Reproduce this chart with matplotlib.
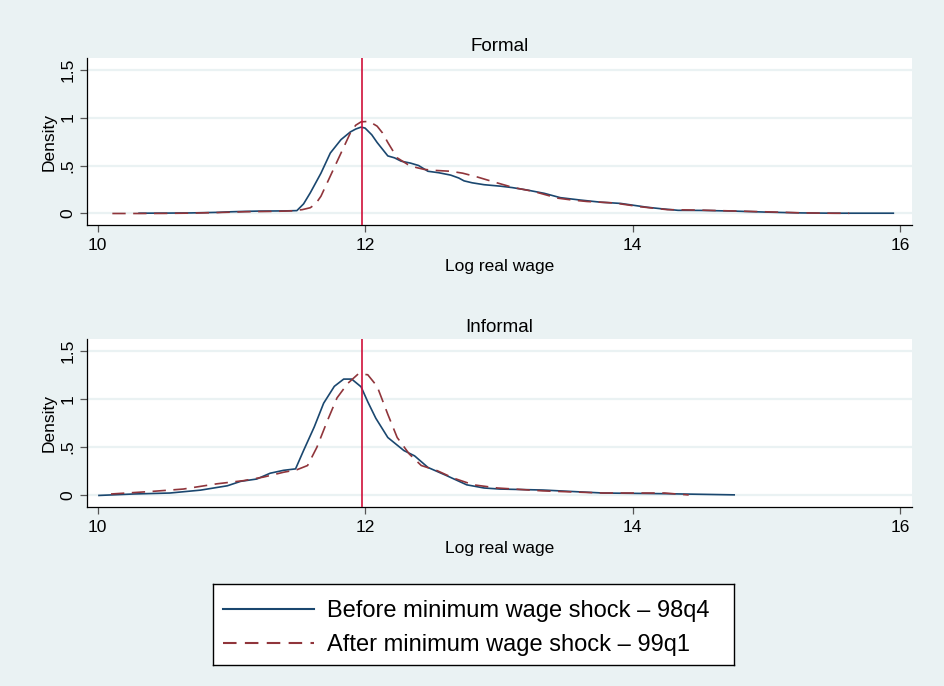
import numpy as np
from matplotlib import pyplot as plt
from matplotlib.lines import Line2D

plt.rcParams['font.family'] = ['Liberation Sans', 'DejaVu Sans']

# Formal sector, before the shock (98q4)
xf_before = [10.31, 10.5, 10.7, 10.9, 11.0, 11.1, 11.2, 11.3, 11.4, 11.49, 11.54,
             11.59, 11.67, 11.74, 11.82, 11.89, 11.93, 11.97, 12.0, 12.05, 12.09,
             12.13, 12.17, 12.22, 12.27, 12.34, 12.40, 12.47, 12.55, 12.64, 12.70,
             12.74, 12.80, 12.89, 13.01, 13.1, 13.21, 13.34, 13.46, 13.61, 13.76,
             13.91, 14.01, 14.11, 14.21, 14.34, 14.51, 14.76, 15.01, 15.26, 15.5, 15.95]
yf_before = [0.003, 0.004, 0.006, 0.012, 0.018, 0.022, 0.025, 0.026, 0.027, 0.03, 0.1,
             0.215, 0.42, 0.63, 0.77, 0.85, 0.88, 0.90, 0.89, 0.82, 0.74,
             0.67, 0.60, 0.58, 0.545, 0.525, 0.50, 0.44, 0.425, 0.40, 0.37,
             0.34, 0.32, 0.30, 0.285, 0.27, 0.245, 0.21, 0.165, 0.14, 0.118,
             0.105, 0.085, 0.065, 0.05, 0.033, 0.032, 0.025, 0.014, 0.006, 0.003, 0.003]

# Formal sector, after the shock (99q1)
xf_after = [10.11, 10.3, 10.5, 10.7, 10.9, 11.0, 11.1, 11.2, 11.3, 11.4, 11.46, 11.53,
            11.59, 11.63, 11.67, 11.74, 11.82, 11.89, 11.93, 11.97, 12.03, 12.09,
            12.13, 12.17, 12.24, 12.32, 12.38, 12.44, 12.51, 12.64, 12.73, 12.84,
            12.96, 13.11, 13.26, 13.44, 13.55, 13.66, 13.86, 14.06, 14.26, 14.51,
            14.76, 15.01, 15.26, 15.45, 15.62]
yf_after = [0.0, 0.0, 0.001, 0.004, 0.01, 0.014, 0.018, 0.02, 0.022, 0.025, 0.028, 0.04,
            0.06, 0.1, 0.18, 0.39, 0.63, 0.84, 0.92, 0.955, 0.96, 0.91,
            0.84, 0.74, 0.58, 0.51, 0.48, 0.46, 0.45, 0.44, 0.42, 0.38,
            0.33, 0.27, 0.23, 0.16, 0.14, 0.125, 0.11, 0.07, 0.04, 0.035,
            0.026, 0.017, 0.007, 0.003, 0.002]

# Informal sector, before
xi_before = [10.01, 10.27, 10.54, 10.77, 10.97, 11.07, 11.19, 11.29, 11.39, 11.48,
             11.54, 11.62, 11.69, 11.77, 11.84, 11.90, 11.97, 12.02, 12.08, 12.17,
             12.29, 12.37, 12.47, 12.61, 12.76, 12.89, 13.01, 13.33, 13.56, 13.78,
             14.24, 14.76]
yi_before = [0.0, 0.015, 0.025, 0.055, 0.10, 0.146, 0.17, 0.23, 0.26, 0.275,
             0.465, 0.71, 0.955, 1.13, 1.205, 1.205, 1.125, 0.97, 0.80, 0.60,
             0.465, 0.41, 0.29, 0.205, 0.11, 0.077, 0.066, 0.056, 0.04, 0.025,
             0.018, 0.006]

# Informal sector, after
xi_after = [10.10, 10.39, 10.64, 10.89, 11.09, 11.24, 11.39, 11.49, 11.57, 11.64,
            11.72, 11.79, 11.87, 11.95, 12.02, 12.09, 12.17, 12.24, 12.33, 12.42,
            12.54, 12.66, 12.81, 12.99, 13.33, 13.78, 14.24, 14.42]
yi_after = [0.015, 0.04, 0.066, 0.12, 0.153, 0.19, 0.24, 0.266, 0.31, 0.5,
            0.78, 1.01, 1.16, 1.26, 1.25, 1.13, 0.84, 0.60, 0.43, 0.31,
            0.256, 0.18, 0.11, 0.077, 0.047, 0.025, 0.025, 0.005]

min_wage = 11.98
xticks = [10, 12, 14, 16]
yticks = [0, 0.5, 1, 1.5]
ytick_labels = ['0', '.5', '1', '1.5']
labels = ['Before minimum wage shock \u2013 98q4', 'After minimum wage shock \u2013 99q1']

bg = '#eaf2f3'
blue = '#1a476f'
red = '#90353b'

fig = plt.figure(figsize=(9.45, 6.86), dpi=100, facecolor=bg)

panels = [
    ('Formal', [0.0917, 0.672, 0.873, 0.2434], xf_before, yf_before, xf_after, yf_after),
    ('Informal', [0.0917, 0.2609, 0.873, 0.2449], xi_before, yi_before, xi_after, yi_after),
]

for title, pos, xb, yb, xa, ya in panels:
    ax = fig.add_axes(pos)
    ax.set_facecolor('white')
    for y in yticks:
        ax.axhline(y, color=bg, lw=1.6, zorder=0)
    ax.plot(xb, yb, color=blue, lw=1.2, zorder=3)
    ax.plot(xa, ya, color=red, lw=1.2, dashes=(8, 4.5), zorder=3)
    ax.axvline(min_wage, color='#d0103a', lw=1.2, zorder=4)
    ax.set_xlim(9.918, 16.087)
    ax.set_ylim(-0.12, 1.62)
    ax.set_xticks(xticks)
    ax.set_xticklabels([str(t) for t in xticks])
    ax.set_yticks(yticks)
    ax.set_yticklabels(ytick_labels, rotation=90, va='center')
    ax.tick_params(axis='both', length=5, width=0.9, color='#555555', labelsize=12.5, pad=3)
    ax.tick_params(axis='x', pad=4)
    ax.spines['top'].set_visible(False)
    ax.spines['right'].set_visible(False)
    ax.spines['left'].set_linewidth(0.9)
    ax.spines['bottom'].set_linewidth(0.9)
    ax.set_title(title, fontsize=13.5, pad=5)
    ax.set_xlabel('Log real wage', fontsize=12.5, labelpad=4.5)
    ax.set_ylabel('Density', fontsize=12.5, labelpad=3)

# legend box
lax = fig.add_axes([0.2249, 0.0306, 0.5514, 0.1174])
lax.set_facecolor('white')
lax.set_xticks([])
lax.set_yticks([])
for s in lax.spines.values():
    s.set_linewidth(1.0)
    s.set_color('black')
handles = [Line2D([], [], color=blue, lw=1.5),
           Line2D([], [], color=red, lw=1.5, dashes=(6.5, 4))]
lax.legend(handles, labels, loc='center left', bbox_to_anchor=(0.006, 0.46),
           frameon=False, fontsize=17, handlelength=3.85, handletextpad=0.55,
           labelspacing=0.52, borderaxespad=0.0, borderpad=0.3)

fig.savefig('out.png', dpi=100, facecolor=bg)
